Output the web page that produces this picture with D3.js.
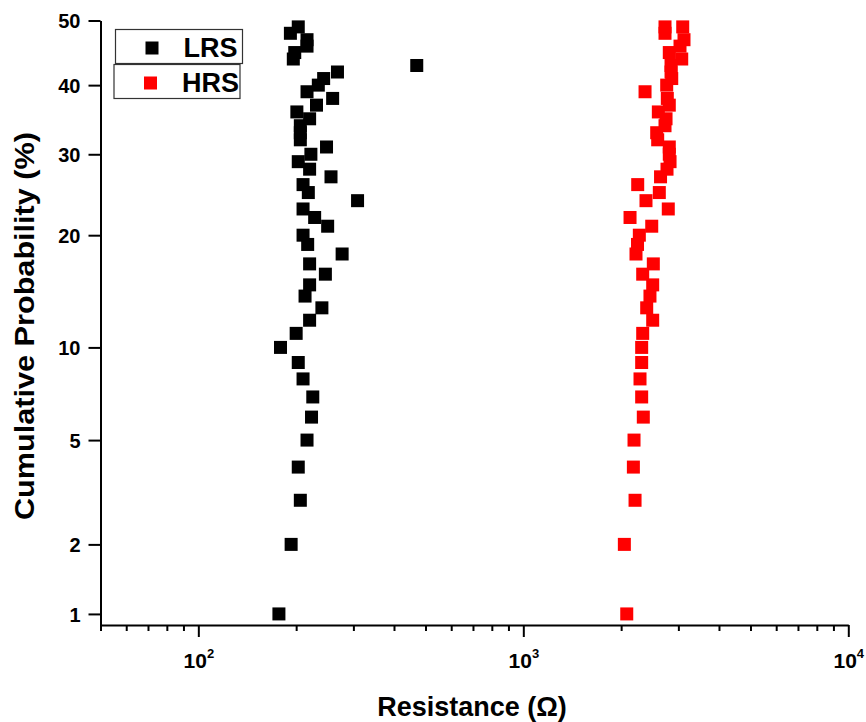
<!DOCTYPE html>
<html><head><meta charset="utf-8">
<script src="https://cdn.jsdelivr.net/npm/d3@7"></script>
<style>
body{margin:0;background:#fff}
text{font-family:"Liberation Sans", Arial, sans-serif;font-weight:bold;fill:#000}
</style>
</head><body>
<svg id="chart" width="866" height="722"></svg>
<script>
// ---- data ----
const seriesNames = ["LRS", "HRS"];
const seriesColors = ["#000000", "#ff0000"];
const lrsProb = [1,2,3,4,5,6,7,8,9,10,11,12,13,14,15,16,17,18,19,20,21,22,23,24,25,26,27,28,29,30,31,32,33,34,35,36,37,38,39,40,41,42,43,44,45,46,47,48,49];
const lrsRes = [177,193,206,203,216,223,225,210,203,179,200,220,240,213,220,246,220,277,217,210,250,228,210,309,218,210,256,220,203,222,248,206,206,206,220,201,231,259,216,234,243,268,470,196,198,216,216,192,203];
const hrsProb = [1,2,3,4,5,6,7,8,9,10,11,12,13,14,15,16,17,18,19,20,21,22,23,24,25,26,27,28,29,30,31,32,33,34,35,36,37,38,39,40,41,42,43,44,45,46,47,48,49,49];
const hrsRes = [2081,2046,2207,2181,2191,2340,2313,2286,2313,2313,2330,2501,2397,2453,2501,2330,2512,2222,2246,2275,2484,2130,2793,2385,2621,2249,2644,2768,2828,2813,2813,2591,2573,2729,2749,2603,2813,2774,2369,2762,2862,2848,2848,3072,2813,3035,3122,2729,2729,3094];
const yTickValues = [1, 2, 5, 10, 20, 30, 40, 50];
const xMajorTicks = [100, 1000, 10000];
const xMinorTicks = [50,60,70,80,90,200,300,400,500,600,700,800,900,2000,3000,4000,5000,6000,7000,8000,9000];
const xDomain = [50, 10000];
const yBottomProb = 0.89; // percent at the bottom axis line
const xTitle = "Resistance (\u03A9)";
const yTitle = "Cumulative Probability (%)";

// inverse normal CDF (Acklam)
function probit(p){
  const a=[-3.969683028665376e+01,2.209460984245205e+02,-2.759285104469687e+02,1.383577518672690e+02,-3.066479806614716e+01,2.506628277459239e+00];
  const b=[-5.447609879822406e+01,1.615858368580409e+02,-1.556989798598866e+02,6.680131188771972e+01,-1.328068155288572e+01];
  const c=[-7.784894002430293e-03,-3.223964580411365e-01,-2.400758277161838e+00,-2.549732539343734e+00,4.374664141464968e+00,2.938163982698783e+00];
  const d=[7.784695709041462e-03,3.224671290700398e-01,2.445134137142996e+00,3.754408661907416e+00];
  const pl=0.02425, ph=1-pl; let q,r;
  if(p<pl){q=Math.sqrt(-2*Math.log(p));return (((((c[0]*q+c[1])*q+c[2])*q+c[3])*q+c[4])*q+c[5])/((((d[0]*q+d[1])*q+d[2])*q+d[3])*q+1);}
  if(p<=ph){q=p-0.5;r=q*q;return (((((a[0]*r+a[1])*r+a[2])*r+a[3])*r+a[4])*r+a[5])*q/(((((b[0]*r+b[1])*r+b[2])*r+b[3])*r+b[4])*r+1);}
  q=Math.sqrt(-2*Math.log(1-p));return -(((((c[0]*q+c[1])*q+c[2])*q+c[3])*q+c[4])*q+c[5])/((((d[0]*q+d[1])*q+d[2])*q+d[3])*q+1);
}

const svg = d3.select("#chart");
const x = d3.scaleLog().domain(xDomain).range([100.5, 848.3]);
const yZ = d3.scaleLinear().domain([probit(yBottomProb/100), probit(0.5)]).range([625, 20.5]);
const y = p => yZ(probit(p/100));

// y axis
const yAxis = d3.axisLeft(yZ)
  .tickValues(yTickValues.map(p => probit(p/100)))
  .tickFormat((d,i) => yTickValues[i])
  .tickSize(12).tickSizeOuter(0).tickPadding(8);
const gy = svg.append("g").attr("transform","translate(100.5,0)").call(yAxis);
gy.select(".domain").attr("stroke","#000").attr("stroke-width",2);
gy.selectAll(".tick line").attr("stroke","#000").attr("stroke-width",2);
gy.selectAll(".tick text").attr("font-size",20).attr("font-family","Liberation Sans, Arial, sans-serif").attr("font-weight","bold").attr("fill","#000").attr("dy","0.36em");

// x axis
const allX = xMinorTicks.concat(xMajorTicks).sort((a,b)=>a-b);
const xAxis = d3.axisBottom(x).tickValues(allX).tickFormat("").tickSize(6).tickSizeOuter(0);
const gx = svg.append("g").attr("transform","translate(0,625)").call(xAxis);
gx.select(".domain").attr("stroke","#000").attr("stroke-width",2);
gx.selectAll(".tick line").attr("stroke","#000").attr("stroke-width",2)
  .attr("y2", d => xMajorTicks.includes(d) ? 12 : 6);
gx.selectAll(".tick").filter(d => xMajorTicks.includes(d)).each(function(d){
  const t = d3.select(this).append("text").attr("text-anchor","middle").attr("y",43).attr("font-size",21);
  t.append("tspan").text("10");
  t.append("tspan").attr("font-size",13).attr("dy",-10).text(Math.round(Math.log10(d)));
});

// axis titles
svg.append("text").attr("x",472).attr("y",716).attr("text-anchor","middle").attr("font-size",27).text(xTitle);
svg.append("text").attr("transform","translate(34,326) rotate(-90)").attr("text-anchor","middle")
  .attr("font-size",27.5).attr("textLength",388).attr("lengthAdjust","spacingAndGlyphs").text(yTitle);

// data
const series = [
  {name: seriesNames[0], color: seriesColors[0], prob: lrsProb, res: lrsRes},
  {name: seriesNames[1], color: seriesColors[1], prob: hrsProb, res: hrsRes}
];
const S = 13;
series.forEach(s => {
  svg.append("g").selectAll("rect").data(s.res.map((r,i)=>({r, p: s.prob[i]}))).join("rect")
    .attr("x", d => x(d.r) - S/2).attr("y", d => y(d.p) - S/2)
    .attr("width", S).attr("height", S).attr("fill", s.color);
});

// legend
const legendBoxes = [{x:115.5,y:29.5,w:127,h:34},{x:114,y:64.5,w:126,h:34}];
series.forEach((s,i) => {
  const b = legendBoxes[i];
  const g = svg.append("g");
  g.append("rect").attr("x",b.x).attr("y",b.y).attr("width",b.w).attr("height",b.h)
    .attr("fill","#fff").attr("stroke","#333").attr("stroke-width",1.2);
  g.append("rect").attr("x",b.x+30).attr("y",b.y+12).attr("width",13).attr("height",13).attr("fill",s.color);
  g.append("text").attr("x",b.x+68).attr("y",b.y+27).attr("font-size",27).text(s.name);
});
</script>
</body></html>
